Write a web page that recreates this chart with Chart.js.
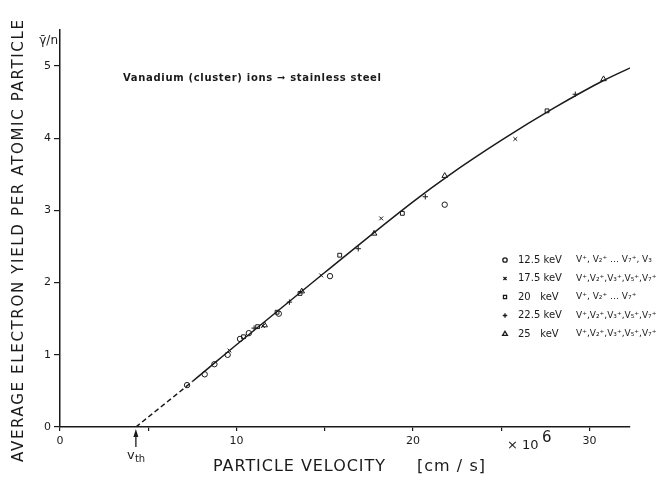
<!DOCTYPE html>
<html>
<head>
<meta charset="utf-8">
<script src="https://cdn.jsdelivr.net/npm/chart.js@4.4.1/dist/chart.umd.min.js"></script>
<style>
  html, body { margin: 0; padding: 0; background: #fff; }
  #wrap { width: 664px; height: 478px; }
</style>
</head>
<body>
<div id="wrap"><canvas id="yieldChart" width="664" height="478"></canvas></div>
<script>
// Velocities in units of 10^6 cm/s, yields per atomic particle
var v125 = [7.2, 8.2, 8.75, 9.5, 10.2, 10.7, 12.4, 15.3, 21.8];
var y125 = [0.58, 0.73, 0.87, 1.0, 1.22, 1.30, 1.57, 2.09, 3.08];

var v175 = [9.6, 11.5, 14.8, 18.2, 25.8];
var y175 = [1.06, 1.40, 2.10, 2.89, 3.99];

var v20 = [10.4, 11.2, 12.3, 13.6, 15.85, 19.4, 27.6];
var y20 = [1.25, 1.39, 1.59, 1.85, 2.38, 2.96, 4.38];

var v225 = [11.0, 13.0, 16.9, 20.7, 29.2];
var y225 = [1.37, 1.73, 2.47, 3.19, 4.61];

var v25 = [11.6, 13.7, 17.8, 21.8, 30.8];
var y25 = [1.41, 1.88, 2.68, 3.48, 4.82];

// fitted curve (first segment dashed, from threshold velocity)
var curveV = [4.3, 7.5, 10, 15, 20, 22, 25, 28, 30.8, 32.8];
var curveY = [0, 0.63, 1.14, 2.14, 3.12, 3.48, 3.97, 4.42, 4.80, 5.03];
var vth = 4.3;

var xTickLabels = { 0: '0', 10: '10', 20: '20', 30: '30' };
var yTickLabels = [0, 1, 2, 3, 4, 5];

var legendRows = [
    { style: 'circle', energy: '12.5 keV', ions: 'V⁺, V₂⁺ … V₇⁺, V₃' },
    { style: 'crossRot', energy: '17.5 keV', ions: 'V⁺,V₂⁺,V₃⁺,V₅⁺,V₇⁺' },
    { style: 'rect', energy: '20   keV', ions: 'V⁺, V₂⁺ … V₇⁺' },
    { style: 'cross', energy: '22.5 keV', ions: 'V⁺,V₂⁺,V₃⁺,V₅⁺,V₇⁺' },
    { style: 'triangle', energy: '25   keV', ions: 'V⁺,V₂⁺,V₃⁺,V₅⁺,V₇⁺' }
];

var ink = '#1a1a1a';

function pts(xs, ys) {
    return xs.map(function (x, i) { return { x: x, y: ys[i] }; });
}

function series(xs, ys, style) {
    return {
        data: pts(xs, ys),
        pointStyle: style,
        pointRadius: style === 'triangle' ? 3.2 : 2.7,
        pointBorderColor: ink,
        pointBackgroundColor: 'rgba(255,255,255,0)',
        pointBorderWidth: 1,
        showLine: false
    };
}

// draws titles, labels and the legend
var annotations = {
    id: 'annotations',
    afterDraw: function (chart) {
        var c = chart.ctx;
        var xs = chart.scales.x;
        c.save();
        c.fillStyle = ink;
        c.strokeStyle = ink;
        c.textBaseline = 'middle';

        function spaced(text, font, target) {
            c.font = font;
            c.letterSpacing = '0px';
            var w = c.measureText(text).width;
            var ls = (target - w) / (text.length - 1);
            c.letterSpacing = ls + 'px';
        }

        // y title
        c.save();
        c.translate(19, 241);
        c.rotate(-Math.PI / 2);
        c.textAlign = 'left';
        var yt = 'AVERAGE ELECTRON YIELD PER ATOMIC PARTICLE';
        spaced(yt, '15px "DejaVu Sans"', 442);
        c.fillText(yt, -221, 0);
        c.restore();
        c.letterSpacing = '0px';

        // gamma / n
        c.font = '12px "DejaVu Sans"';
        c.textAlign = 'right';
        c.fillText('γ̄/n', 58, 41);
        c.textAlign = 'left';

        // headline
        var ht = 'Vanadium (cluster) ions ➞ stainless steel';
        spaced(ht, 'bold 10px "DejaVu Sans"', 258);
        c.fillText(ht, 123, 78);
        c.letterSpacing = '0px';

        // x title
        var xt = 'PARTICLE VELOCITY';
        spaced(xt, '16px "DejaVu Sans"', 172);
        c.fillText(xt, 213, 467);
        var ut = '[cm / s]';
        spaced(ut, '16px "DejaVu Sans"', 68);
        c.fillText(ut, 417, 467);
        c.letterSpacing = '0px';

        c.font = '13px "DejaVu Sans"';
        c.fillText('× 10', 507, 446);
        c.font = '15px "DejaVu Sans"';
        c.fillText('6', 542, 438);

        // v_th arrow
        var ax = xs.getPixelForValue(vth);
        c.lineWidth = 1.3;
        c.beginPath();
        c.moveTo(ax, 447);
        c.lineTo(ax, 432);
        c.stroke();
        c.beginPath();
        c.moveTo(ax - 2.5, 437);
        c.lineTo(ax, 429);
        c.lineTo(ax + 2.5, 437);
        c.closePath();
        c.fill();
        c.font = '13px "DejaVu Sans"';
        c.fillText('v', ax - 9, 456);
        c.font = '10px "DejaVu Sans"';
        c.fillText('th', ax - 1, 459);

        // legend
        legendRows.forEach(function (row, i) {
            var y = 260 + i * 18.5;
            c.fillStyle = '#fff';
            Chart.helpers.drawPoint(c, {
                pointStyle: row.style, radius: row.style === 'triangle' ? 2.8 : 2.2, borderWidth: 1
            }, 505, y);
            c.fillStyle = ink;
            c.font = '10px "DejaVu Sans"';
            c.letterSpacing = '0px';
            c.fillText(row.energy, 518, y);
            c.font = '9px "DejaVu Sans"';
            c.fillText(row.ions, 576, y);
        });
        c.restore();
    }
};

var ctx = document.getElementById('yieldChart').getContext('2d');
var yieldChart = new Chart(ctx, {
    type: 'scatter',
    data: {
        datasets: [
            {
                type: 'line',
                data: pts(curveV, curveY),
                borderColor: ink,
                borderWidth: 1.5,
                pointRadius: 0,
                fill: false,
                cubicInterpolationMode: 'monotone',
                segment: {
                    borderDash: function (s) { return s.p0DataIndex === 0 ? [5, 3] : undefined; }
                }
            },
            series(v125, y125, 'circle'),
            series(v175, y175, 'crossRot'),
            series(v20, y20, 'rect'),
            series(v225, y225, 'cross'),
            series(v25, y25, 'triangle')
        ]
    },
    options: {
        responsive: false,
        animation: false,
        layout: { padding: { left: 0, right: 34, top: 30, bottom: 0 } },
        plugins: {
            legend: { display: false },
            tooltip: { enabled: false }
        },
        scales: {
            x: {
                type: 'linear',
                min: 0,
                max: 32.3,
                afterBuildTicks: function (s) {
                    s.ticks = [0, 5, 10, 15, 20, 25, 30].map(function (v) { return { value: v }; });
                },
                afterFit: function (s) { s.height = 51; },
                border: { color: ink, width: 1.5 },
                grid: { drawOnChartArea: false, drawTicks: true, tickLength: 4, color: ink, lineWidth: 1.2 },
                ticks: {
                    color: ink,
                    padding: 4,
                    font: { family: 'DejaVu Sans', size: 11 },
                    callback: function (v) { return xTickLabels[v] || ''; }
                }
            },
            y: {
                min: 0,
                max: 5.5,
                afterBuildTicks: function (s) {
                    s.ticks = yTickLabels.map(function (v) { return { value: v }; });
                },
                afterFit: function (s) { s.width = 60; },
                border: { color: ink, width: 1.5 },
                grid: { drawOnChartArea: false, drawTicks: true, tickLength: 6, color: ink, lineWidth: 1.2 },
                ticks: {
                    color: ink,
                    padding: 3,
                    font: { family: 'DejaVu Sans', size: 11 }
                }
            }
        }
    },
    plugins: [annotations]
});
</script>
</body>
</html>
